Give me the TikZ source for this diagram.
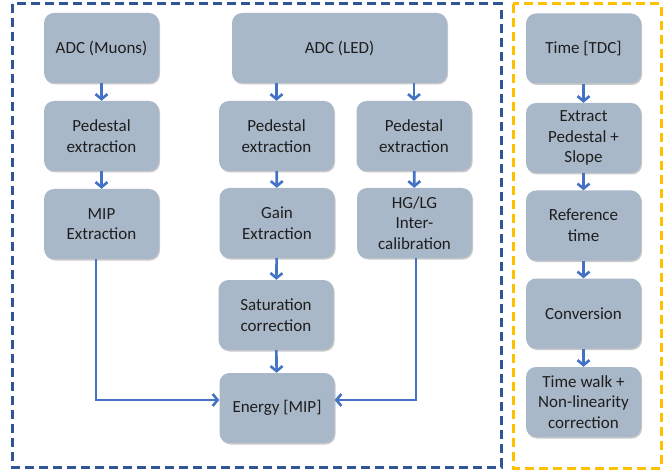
\documentclass[tikz,border=0pt]{standalone}
\usepackage{fontspec}
\setmainfont{Carlito}
\usetikzlibrary{arrows.meta,shadows}
\definecolor{boxfill}{HTML}{A9B8C9}
\definecolor{arrowblue}{HTML}{4472C4}
\definecolor{frameblue}{HTML}{2F5597}
\definecolor{frameorange}{HTML}{FFC000}
\definecolor{txt}{HTML}{1E1E1E}
\tikzset{
  procbox/.style={fill=boxfill, rounded corners=10pt, minimum width=115pt, minimum height=70pt,
    align=center, text=txt, font=\fontsize{17}{20.7}\selectfont, inner sep=2pt,
    drop shadow={shadow xshift=1pt, shadow yshift=-1.5pt, opacity=0.35, fill=black!60}},
  flow/.style={draw=arrowblue, line width=2.6pt, -{Straight Barb[length=5pt,width=12pt,line width=2.6pt]}},
  frame/.style={line width=3pt, dash pattern=on 9pt off 5pt}
}
\begin{document}
\begin{tikzpicture}[x=1pt,y=-1pt]
\useasboundingbox[fill=white] (0,0) rectangle (664,473);
\draw[frame, draw=frameblue] (12,4) rectangle (501,467);
\draw[frame, draw=frameorange] (513,4) rectangle (661,468);

\node[procbox] (muon) at (101.5,48) {ADC (Muons)};
\node[procbox] (ped1) at (101.5,136) {Pedestal\\extraction};
\node[procbox] (mip) at (101.5,224) {MIP\\Extraction};
\node[procbox, minimum width=215pt] (led) at (339.5,48) {ADC (LED)};
\node[procbox] (ped2) at (276.5,136) {Pedestal\\extraction};
\node[procbox] (ped3) at (414,136) {Pedestal\\extraction};
\node[procbox] (gain) at (277,223) {Gain\\Extraction};
\node[procbox] (hglg) at (414.5,223) {HG/LG\\Inter-\\calibration};
\node[procbox] (sat) at (276,315) {Saturation\\correction};
\node[procbox] (energy) at (277,408) {Energy [MIP]};

\node[procbox] (tdc) at (583.5,48.5) {Time [TDC]};
\node[procbox] (extr) at (583.5,138) {Extract\\Pedestal +\\Slope};
\node[procbox] (ref) at (583.5,225.5) {Reference\\time};
\node[procbox] (conv) at (583.5,313.5) {Conversion};
\node[procbox] (walk) at (583.5,402) {Time walk +\\Non-linearity\\correction};

\coordinate (mipx) at (96,0);
\coordinate (hgx) at (416,0);
\coordinate (ey) at (0,400);

\draw[flow] (muon) -- (ped1);
\draw[flow] (ped1) -- (mip);
\draw[flow] (led.south -| ped2) -- (ped2);
\draw[flow] (led.south -| ped3) -- (ped3);
\draw[flow] (ped2) -- (gain);
\draw[flow] (ped3) -- (hglg);
\draw[flow] (gain) -- (sat);
\draw[flow] (sat) -- (energy);
\draw[flow] (mip.south -| mipx) -- (mipx |- ey) -- (energy.west |- ey);
\draw[flow] (hglg.south -| hgx) -- (hgx |- ey) -- (energy.east |- ey);

\draw[flow] (tdc) -- (extr);
\draw[flow] (extr) -- (ref);
\draw[flow] (ref) -- (conv);
\draw[flow] (conv) -- (walk);
\end{tikzpicture}
\end{document}
